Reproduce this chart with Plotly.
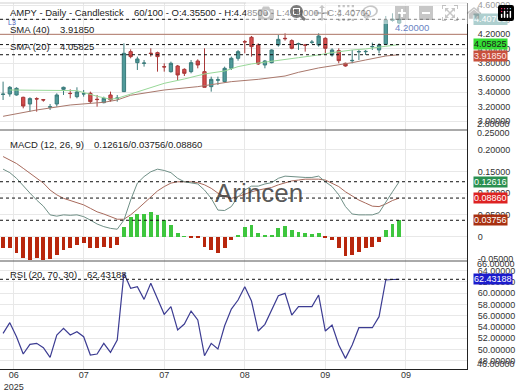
import plotly.graph_objects as go
from plotly.subplots import make_subplots

# ---------------- data ----------------
candle_idx = list(range(60))
opens = [3.370, 3.377, 3.363, 3.331, 3.239, 3.313, 3.300, 3.195, 3.239, 3.441,
         3.386, 3.340, 3.377, 3.386, 3.304, 3.257, 3.363, 3.317, 3.409, 3.961,
         3.809, 3.800, 3.940, 3.947, 3.754, 3.685, 3.763, 3.717, 3.685, 3.832,
         3.685, 3.478, 3.568, 3.547, 3.731, 3.869, 4.099, 4.159, 4.053, 3.777,
         3.809, 4.053, 4.145, 4.113, 4.067, 4.053, 4.088, 4.053, 4.145, 3.915,
         3.975, 3.800, 3.835, 3.958, 3.960, 4.028, 3.984, 4.062, 4.390, 4.355]
highs = [3.547, 3.487, 3.469, 3.340, 3.331, 3.331, 3.308, 3.239, 3.386, 3.478,
         3.441, 3.469, 3.432, 3.409, 3.363, 3.340, 3.409, 3.363, 4.076, 3.993,
         3.892, 3.846, 4.007, 3.961, 3.800, 3.823, 3.777, 3.731, 3.846, 3.855,
         4.007, 3.616, 3.616, 3.754, 3.892, 3.984, 4.122, 4.177, 4.076, 3.846,
         3.993, 4.191, 4.214, 4.131, 4.085, 4.067, 4.122, 4.214, 4.159, 4.007,
         4.007, 3.809, 3.984, 3.984, 3.984, 4.085, 4.076, 4.453, 4.490, 4.485]
lows = [3.294, 3.340, 3.355, 3.179, 3.133, 3.133, 3.271, 3.156, 3.202, 3.363,
        3.317, 3.317, 3.340, 3.248, 3.202, 3.248, 3.271, 3.271, 3.405, 3.869,
        3.708, 3.754, 3.892, 3.685, 3.685, 3.671, 3.570, 3.625, 3.662, 3.731,
        3.469, 3.409, 3.501, 3.533, 3.708, 3.837, 3.938, 3.892, 3.777, 3.731,
        3.800, 4.030, 4.113, 3.993, 3.984, 3.961, 4.067, 4.030, 3.938, 3.892,
        3.800, 3.754, 3.800, 3.846, 3.915, 3.984, 3.938, 4.062, 4.375, 4.340]
closes = [3.375, 3.469, 3.455, 3.211, 3.313, 3.308, 3.294, 3.200, 3.363, 3.469,
          3.383, 3.405, 3.380, 3.271, 3.300, 3.317, 3.294, 3.320, 3.938, 3.892,
          3.860, 3.803, 3.935, 3.892, 3.750, 3.800, 3.639, 3.662, 3.809, 3.777,
          3.469, 3.579, 3.572, 3.731, 3.869, 3.961, 4.095, 4.030, 3.791, 3.832,
          3.984, 4.131, 4.140, 4.007, 4.070, 4.050, 4.092, 4.177, 4.007, 3.984,
          3.837, 3.763, 3.840, 3.962, 3.964, 4.032, 4.053, 4.398, 4.410, 4.407]

sma20_idx = [1, 6, 11, 14, 16, 17, 19, 22, 24, 27, 30, 33, 35, 37, 39, 42, 44, 47, 49, 52, 54, 57, 59]
sma20_val = [3.432, 3.432, 3.423, 3.345, 3.304, 3.317, 3.377, 3.469, 3.524, 3.584, 3.653, 3.694,
             3.754, 3.791, 3.814, 3.846, 3.878, 3.915, 3.947, 3.984, 3.998, 4.035, 4.05825]
sma40_idx = [0, 5, 10, 15, 17, 19, 24, 29, 34, 38, 42, 44, 47, 49, 52, 54, 57, 59]
sma40_val = [3.069, 3.156, 3.225, 3.262, 3.294, 3.359, 3.432, 3.478, 3.547, 3.579, 3.625, 3.676,
             3.736, 3.763, 3.809, 3.846, 3.901, 3.91850]

macd_line = [0.155, 0.147, 0.134, 0.116, 0.100, 0.084, 0.070, 0.050, 0.047, 0.050,
             0.049, 0.050, 0.046, 0.038, 0.029, 0.023, 0.019, 0.017, 0.038, 0.084,
             0.123, 0.138, 0.149, 0.155, 0.152, 0.147, 0.134, 0.126, 0.124, 0.121,
             0.107, 0.088, 0.061, 0.060, 0.069, 0.092, 0.107, 0.116, 0.116, 0.121,
             0.124, 0.134, 0.139, 0.138, 0.136, 0.136, 0.136, 0.139, 0.126, 0.115,
             0.096, 0.069, 0.052, 0.050, 0.050, 0.050, 0.055, 0.080, 0.103, 0.12616]
macd_signal = [0.184, 0.176, 0.168, 0.157, 0.145, 0.134, 0.123, 0.107, 0.096, 0.088,
               0.083, 0.078, 0.073, 0.065, 0.057, 0.052, 0.046, 0.040, 0.040, 0.050,
               0.063, 0.077, 0.092, 0.105, 0.115, 0.123, 0.126, 0.126, 0.126, 0.124,
               0.119, 0.111, 0.100, 0.092, 0.088, 0.092, 0.098, 0.103, 0.107, 0.110,
               0.113, 0.119, 0.124, 0.128, 0.130, 0.132, 0.132, 0.132, 0.130, 0.123,
               0.115, 0.103, 0.093, 0.084, 0.077, 0.070, 0.069, 0.075, 0.083, 0.08860]
macd_hist = [-0.027, -0.027, -0.037, -0.050, -0.054, -0.050, -0.054, -0.052, -0.042, -0.031,
             -0.027, -0.019, -0.015, -0.027, -0.027, -0.023, -0.027, -0.019, 0.023, 0.044,
             0.053, 0.052, 0.057, 0.050, 0.038, 0.027, 0.0075, 0.001, -0.001, -0.0025,
             -0.023, -0.031, -0.038, -0.027, -0.008, 0.002, 0.021, 0.027, 0.009, 0.003,
             0.004, 0.019, 0.024, 0.015, 0.011, 0.0075, 0.006, 0.009, -0.004, -0.008,
             -0.027, -0.045, -0.042, -0.035, -0.027, -0.023, -0.012, 0.015, 0.029, 0.03756]
rsi = [52.87, 54.76, 52.28, 49.21, 50.92, 51.10, 50.33, 48.62, 52.57, 53.75,
       52.57, 53.16, 52.28, 49.03, 49.21, 51.10, 49.50, 51.69, 63.49, 60.83,
       61.13, 58.88, 61.72, 59.06, 56.23, 57.59, 53.46, 54.52, 56.82, 55.23,
       48.91, 51.10, 50.09, 54.22, 57.17, 58.77, 61.13, 58.59, 53.28, 54.46,
       57.00, 59.53, 59.95, 56.11, 57.59, 57.59, 57.59, 59.65, 53.28, 54.34,
       50.80, 48.44, 50.80, 53.87, 53.87, 53.87, 55.82, 62.31, 62.40, 62.43188]

level_price = 4.20
x_tick_pos = [1.6, 12, 24, 36, 48, 60]
x_tick_text = ["06<br>2025", "07", "07", "08", "09", "09"]
price_ticks = [3.0, 3.2, 3.4, 3.6, 3.8, 4.0, 4.2, 4.4, 4.6]
macd_ticks = [-0.05, 0.0, 0.05, 0.10, 0.15, 0.20]
macd_tick_text = ["-0.05000", "0", "0.05000", "0.10000", "0.15000", "0.20000"]
rsi_ticks = [48, 50, 52, 54, 56, 58, 60, 62, 64]

# ---------------- styling / layout constants ----------------
FONT = "Arial, Liberation Sans, sans-serif"
W, H = 520, 390
ML, MR, MT, MB = 0, 53, 3, 21
PW, PH = W - ML - MR, H - MT - MB
UP_FILL, UP_LINE = "#4f9a9a", "#3b7b7b"
DN_FILL, DN_LINE = "#d44c4c", "#a83838"
GRID = "#e8e8e8"


def px_x(x):
    return (x - ML) / PW


def px_y(y):
    return (H - MB - y) / PH


fig = make_subplots(rows=3, cols=1, shared_xaxes=True, vertical_spacing=0,
                    row_heights=[127, 131, 108])

# price panel
fig.add_trace(go.Scatter(x=sma40_idx, y=sma40_val, mode="lines",
                         line=dict(color="#a9786c", width=1), hoverinfo="skip"), row=1, col=1)
fig.add_trace(go.Scatter(x=sma20_idx, y=sma20_val, mode="lines",
                         line=dict(color="#98d898", width=1), hoverinfo="skip"), row=1, col=1)
fig.add_trace(go.Candlestick(x=candle_idx, open=opens, high=highs, low=lows, close=closes,
                             increasing=dict(line=dict(color=UP_LINE, width=1), fillcolor=UP_FILL),
                             decreasing=dict(line=dict(color=DN_LINE, width=1), fillcolor=DN_FILL),
                             hoverinfo="skip"), row=1, col=1)

# MACD panel
fig.add_trace(go.Bar(x=candle_idx, y=macd_hist, width=0.58,
                     marker=dict(color=["#3ec63e" if v >= 0 else "#b8260c" for v in macd_hist],
                                 line=dict(width=0)),
                     hoverinfo="skip"), row=2, col=1)
fig.add_trace(go.Scatter(x=candle_idx, y=macd_signal, mode="lines",
                         line=dict(color="#a86a5c", width=1), hoverinfo="skip"), row=2, col=1)
fig.add_trace(go.Scatter(x=candle_idx, y=macd_line, mode="lines",
                         line=dict(color="#6f8f86", width=1), hoverinfo="skip"), row=2, col=1)

# RSI panel
fig.add_trace(go.Scatter(x=candle_idx, y=rsi, mode="lines",
                         line=dict(color="#3c3c92", width=1.2), hoverinfo="skip"), row=3, col=1)

x_range = [-0.46, 69.1]
fig.update_xaxes(range=x_range, tickvals=x_tick_pos, ticktext=x_tick_text,
                 showgrid=True, gridcolor=GRID, gridwidth=1, zeroline=False,
                 ticks="", automargin=False, rangeslider_visible=False, ticklabelstandoff=-3,
                 tickfont=dict(size=9, color="#333", family=FONT))
fig.update_xaxes(showline=True, linecolor="#222", linewidth=1, row=3, col=1)

yax_common = dict(side="right", showgrid=True, gridcolor=GRID, gridwidth=1, zeroline=False,
                  ticks="", automargin=False, showline=True, linecolor="#222", linewidth=1,
                  ticklabelstandoff=8, tickfont=dict(size=9, color="#333", family=FONT))
fig.update_yaxes(range=[2.880, 4.632], tickvals=price_ticks, tickformat=".5f",
                 row=1, col=1, **yax_common)
fig.update_yaxes(range=[-0.056, 0.245], tickvals=macd_ticks, ticktext=macd_tick_text,
                 row=2, col=1, **yax_common)
fig.update_yaxes(range=[46.56, 65.67], tickvals=rsi_ticks, tickformat=".5f",
                 row=3, col=1, **yax_common)

shapes = []
dash = dict(color="#111", width=1, dash="3px,3px")
for v in (closes[-1], sma20_val[-1], sma40_val[-1]):
    shapes.append(dict(type="line", xref="x domain", yref="y", x0=0, x1=1, y0=v, y1=v, line=dash))
shapes.append(dict(type="line", xref="x domain", yref="y", x0=0, x1=1, y0=level_price, y1=level_price,
                   line=dict(color="#b07868", width=1)))
for v in (macd_line[-1], macd_signal[-1], macd_hist[-1]):
    shapes.append(dict(type="line", xref="x2 domain", yref="y2", x0=0, x1=1, y0=v, y1=v, line=dash))
shapes.append(dict(type="line", xref="x3 domain", yref="y3", x0=0, x1=1, y0=rsi[-1], y1=rsi[-1], line=dash))
# panel separators
shapes.append(dict(type="line", xref="paper", yref="paper", x0=0, x1=1, y0=px_y(130), y1=px_y(130),
                   line=dict(color="#555", width=1)))
shapes.append(dict(type="line", xref="paper", yref="paper", x0=0, x1=1, y0=px_y(261), y1=px_y(261),
                   line=dict(color="#555", width=1)))
shapes.append(dict(type="line", xref="paper", yref="paper", x0=0, x1=1, y0=1, y1=1,
                   line=dict(color="#cfcfcf", width=1)))

ann = []


def text(x, y, s, size=9.5, color="#222", xanchor="left", **kw):
    ann.append(dict(x=px_x(x), y=px_y(y), xref="paper", yref="paper", text=s, showarrow=False,
                    xanchor=xanchor, yanchor="middle", font=dict(size=size, color=color, family=FONT), **kw))


def badge(y, s, bg, fg="white"):
    ann.append(dict(x=px_x(473), y=px_y(y), xref="paper", yref="paper", text=s, showarrow=False,
                    xanchor="left", yanchor="middle", bgcolor=bg, borderpad=0,
                    font=dict(size=9, color=fg, family=FONT)))


text(8, 12, "AMPY - Daily - Candlestick")
text(131.7, 12, f"60/100 - O:{opens[-1]:.5f} - H:{highs[-1]:.5f} - L:{lows[-1]:.5f} - C:{closes[-1]:.5f}")
text(6, 23, "L3", size=7, color="#4a60c0")
text(8, 29.3, "SMA (40)")
text(58, 29.3, f"{sma40_val[-1]:.5f}")
text(8, 46, "SMA (20)")
text(58, 46, f"{sma20_val[-1]:.5f}")
text(393, 27.7, f"{level_price:.5f}", color="#6a84c4")
text(8, 144, "MACD (12, 26, 9)")
text(92, 144, f"{macd_line[-1]:.5f}/{macd_hist[-1]:.5f}/{macd_signal[-1]:.5f}")
text(8, 274, "RSI (20, 70, 30)")
text(85, 274, f"{rsi[-1]:.5f}")
text(259, 193, "Arincen", size=26, color="rgba(60,60,60,0.85)", xanchor="center")

# clamped extra axis labels at panel edges
text(475, 124, "2.80000", size=9, color="#333")
text(475, 133, "0.25000", size=9, color="#333")
text(475, 264, "66.00000", size=9, color="#333")
text(475, 363.5, "46.00000", size=9, color="#333")

badge(19.3, f"{closes[-1]:.5f}", "#5c9e9e")
badge(44, f"{sma20_val[-1]:.5f}", "#33dd33", "#1a1a1a")
badge(55.5, f"{sma40_val[-1]:.5f}", "#c8503c", "#ffe8e8")
badge(181.5, f"{macd_line[-1]:.5f}", "#2a9050")
badge(197.7, f"{macd_signal[-1]:.5f}", "#dd2222")
badge(220.5, f"{macd_hist[-1]:.5f}", "#a83010")
badge(279.3, f"{rsi[-1]:.5f}", "#1c1ccc")

fig.update_layout(width=W, height=H, margin=dict(l=ML, r=MR, t=MT, b=MB),
                  paper_bgcolor="white", plot_bgcolor="white", showlegend=False,
                  hovermode=False, bargap=0, shapes=shapes, annotations=ann,
                  font=dict(family=FONT, size=9, color="#333"))

fig.write_html("out.html", post_script="document.body.style.margin='0';")
